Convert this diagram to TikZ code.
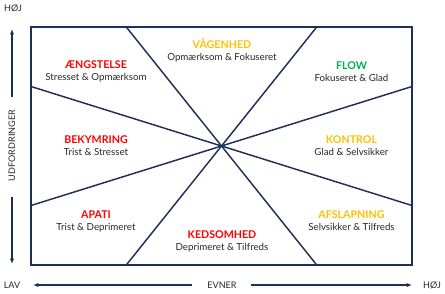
\documentclass[tikz,border=0pt]{standalone}
\usepackage{fontspec}
\setmainfont{Lato}
\usepackage{xcolor}
\usetikzlibrary{arrows.meta,positioning}

\newcommand{\zhead}[2]{{\fontsize{8}{9}\selectfont\bfseries\color[RGB]{#1}#2}}

\begin{document}
\begin{tikzpicture}[
  x=0.75pt, y=-0.75pt,
  qLine/.style={line width=1.1pt,
    color={rgb,255:red,31;green,48;blue,88}},
  qArr/.style={-{Latex[length=4pt,width=3.2pt]},
    line width=0.9pt,
    color={rgb,255:red,31;green,48;blue,88}},
  qAxis/.style={inner sep=0pt, font=\fontsize{6.8}{8}\selectfont,
    text={rgb,255:red,40;green,40;blue,40}},
  qZone/.style={align=center, inner sep=1pt,
    font=\fontsize{7.3}{9}\selectfont,
    text={rgb,255:red,40;green,40;blue,40}},
]
  \useasboundingbox (0,0) rectangle (445,293);

  %% ── Frame and dividing lines ────────────────────────────────
  \coordinate (nw) at (31,27);
  \coordinate (se) at (412,265);
  \draw[qLine] (nw) rectangle (se);

  \coordinate (tL) at (126.25,27);  \coordinate (tR) at (316.75,27);
  \coordinate (bL) at (126.25,265); \coordinate (bR) at (316.75,265);
  \coordinate (lT) at (31,86.5);    \coordinate (lB) at (31,205.5);
  \coordinate (rT) at (412,86.5);   \coordinate (rB) at (412,205.5);

  \foreach \f/\t in {tL/bR, tR/bL, lT/rB, lB/rT}
    \draw[qLine] (\f) -- (\t);

  %% ── Zones ───────────────────────────────────────────────────
  \node[qZone] (angst) at (96,71.5)
    {\zhead{255,0,0}{ÆNGSTELSE}\\Stresset \& Opmærksom};
  \node[qZone] (vaagen) at (222,50)
    {\zhead{255,192,0}{VÅGENHED}\\Opmærksom \& Fokuseret};
  \node[qZone] (flow) at (351.5,71.5)
    {\zhead{0,176,80}{FLOW}\\Fokuseret \& Glad};
  \node[qZone] (bekym) at (96,146)
    {\zhead{255,0,0}{BEKYMRING}\\Trist \& Stresset};
  \node[qZone] (kontrol) at (351.5,146)
    {\zhead{255,192,0}{KONTROL}\\Glad \& Selvsikker};
  \node[qZone] (apati) at (96,221)
    {\zhead{255,0,0}{APATI}\\Trist \& Deprimeret};
  \node[qZone] (keds) at (222,241.5)
    {\zhead{255,0,0}{KEDSOMHED}\\Deprimeret \& Tilfreds};
  \node[qZone] (afslap) at (351.5,221)
    {\zhead{255,192,0}{AFSLAPNING}\\Selvsikker \& Tilfreds};

  %% ── Axes ────────────────────────────────────────────────────
  \node[qAxis] (yHigh) at (13,8) {HØJ};
  \node[qAxis, rotate=90] (yLab) at (12,145.5) {UDFORDRINGER};
  \node[qAxis] (xLow) at (12,285) {LAV};
  \node[qAxis] (xLab) at (222,285) {EVNER};
  \node[qAxis] (xHigh) at (432,285) {HØJ};

  \coordinate (yUpFrom) at (12,97);   \coordinate (yUp) at (12,29);
  \coordinate (yDnFrom) at (12,197);  \coordinate (yDown) at (12,264);
  \coordinate (xLFrom) at (192,285);  \coordinate (xL) at (33,285);
  \coordinate (xRFrom) at (251,285);  \coordinate (xR) at (412,285);

  \foreach \f/\t in {yUpFrom/yUp, yDnFrom/yDown, xLFrom/xL, xRFrom/xR}
    \draw[qArr] (\f) -- (\t);

\end{tikzpicture}
\end{document}
